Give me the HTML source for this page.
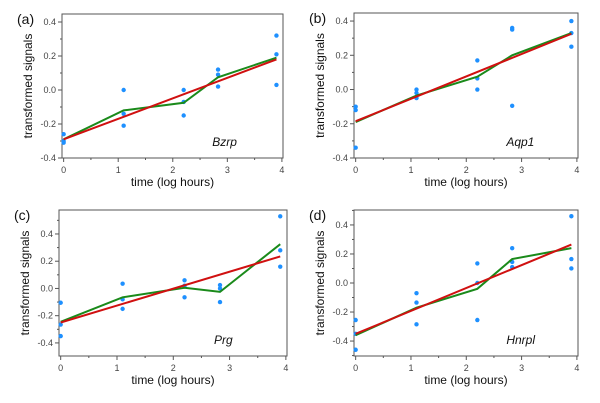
<!DOCTYPE html>
<html><head><meta charset="utf-8"><style>
body{margin:0;background:#fff}
svg{display:block;font-family:"Liberation Sans",sans-serif}
</style></head><body>
<svg id="c" width="600" height="403" viewBox="0 0 600 403"></svg>
<script>
const xCats=[0,1.1,2.2,2.83,3.9];
const fitX=[0,3.9];
const yTicks=[-0.4,-0.2,0,0.2,0.4];
const yTickLabels=["-0.4","-0.2","0.0","0.2","0.4"];
const xTicks=[0,1,2,3,4];
const geneNames=["Bzrp","Aqp1","Prg","Hnrpl"];
const panelLabels=["(a)","(b)","(c)","(d)"];
const ptsA=[[-0.26,-0.30,-0.31],[0.0,-0.14,-0.21],[0.0,-0.07,-0.15],[0.12,0.09,0.02],[0.32,0.21,0.03]];
const ptsB=[[-0.10,-0.12,-0.34],[0.0,-0.02,-0.05],[0.17,0.065,0.0],[0.36,0.35,-0.095],[0.40,0.33,0.25]];
const ptsC=[[-0.105,-0.265,-0.35],[0.035,-0.08,-0.15],[0.06,0.02,-0.065],[0.025,0.0,-0.10],[0.53,0.28,0.16]];
const ptsD=[[-0.255,-0.35,-0.46],[-0.07,-0.135,-0.285],[0.135,0.0,-0.255],[0.24,0.145,0.11],[0.46,0.165,0.10]];
const meanA=[-0.29,-0.12,-0.075,0.075,0.19];
const meanB=[-0.19,-0.035,0.075,0.2,0.33];
const meanC=[-0.245,-0.065,0.005,-0.025,0.325];
const meanD=[-0.36,-0.17,-0.04,0.165,0.24];
const fitA=[-0.29,0.18];
const fitB=[-0.185,0.325];
const fitC=[-0.25,0.235];
const fitD=[-0.35,0.265];
const yDomains=[[-0.4,0.447],[-0.4,0.447],[-0.496,0.576],[-0.503,0.503]];
const xDomain=[-0.03,4.02];

const panels=[
 {box:[62,14,283,158],pts:ptsA,mean:meanA,fit:fitA},
 {box:[354,13,578,158],pts:ptsB,mean:meanB,fit:fitB},
 {box:[59,210,287,356],pts:ptsC,mean:meanC,fit:fitC},
 {box:[354,210,578,356],pts:ptsD,mean:meanD,fit:fitD}
];
const NS="http://www.w3.org/2000/svg";
const svg=document.getElementById('c');
function mk(t,a,p){const e=document.createElementNS(NS,t);for(const k in a)e.setAttribute(k,a[k]);(p||svg).appendChild(e);return e;}
panels.forEach((P,i)=>{
 const [x0,y0,x1,y1]=P.box;
 const yd=yDomains[i];
 const sx=v=>x0+(v-xDomain[0])/(xDomain[1]-xDomain[0])*(x1-x0);
 const sy=v=>y1-(v-yd[0])/(yd[1]-yd[0])*(y1-y0);
 const g=mk('g',{});
 
 
 const fr=mk('rect',{x:x0,y:y0,width:x1-x0,height:y1-y0,fill:'none',stroke:'#555','stroke-width':1},g);
 
 
 // y ticks
 for(let v=-0.5;v<=0.6001;v+=0.1){const r=Math.round(v*10)/10;if(r<yd[0]||r>yd[1])continue;const major=yTicks.some(t=>Math.abs(t-r)<1e-6);
  mk('line',{x1:x0-(major?4:2),x2:x0,y1:sy(r),y2:sy(r),stroke:'#555','stroke-width':1},g);}
 yTicks.forEach((t,k)=>{const tx=mk('text',{x:x0-6,y:sy(t)+3,'font-size':9,fill:'#444','text-anchor':'end'},g);tx.textContent=yTickLabels[k];
  
  });
 for(let v=0;v<=4.001;v+=0.5){const major=Math.abs(v-Math.round(v))<1e-6;mk('line',{x1:sx(v),x2:sx(v),y1:y1,y2:y1+(major?4:2),stroke:'#555','stroke-width':1},g);}
 xTicks.forEach(t=>{const tx=mk('text',{x:sx(t),y:y1+15,'font-size':9,fill:'#444','text-anchor':'middle'},g);tx.textContent=t;
  
  });
 const xt=mk('text',{x:(x0+x1)/2,y:y1+28,'font-size':12,fill:'#111','text-anchor':'middle'},g);xt.textContent='time (log hours)';
 
 
 const yx=x0-30,ym=(y0+y1)/2;
 const yt=mk('text',{x:yx,y:ym,'font-size':12,fill:'#111','text-anchor':'middle',transform:`rotate(-90 ${yx} ${ym})`},g);yt.textContent='transformed signals';
 
 
 const pl=mk('text',{x:x0-45,y:y0+10,'font-size':14,fill:'#111'},g);pl.textContent=panelLabels[i];
 
 
 const gn=mk('text',{x:x0+(x1-x0)*0.68,y:y1-12,'font-size':12,fill:'#111','font-style':'italic'},g);gn.textContent=geneNames[i];
 
 
 P.pts.forEach((arr,k)=>arr.forEach(v=>{const c=mk('circle',{cx:sx(xCats[k]),cy:sy(v),r:2.2,fill:'#1e90ff'},g);
  
  }));
 const gl=mk('polyline',{points:P.mean.map((v,k)=>sx(xCats[k])+','+sy(v)).join(' '),fill:'none',stroke:'#1a8a1a','stroke-width':2},g);
 
 
 const rl=mk('polyline',{points:P.fit.map((v,k)=>sx(fitX[k])+','+sy(v)).join(' '),fill:'none',stroke:'#d01010','stroke-width':2},g);
 
 
});
</script>
</body></html>
